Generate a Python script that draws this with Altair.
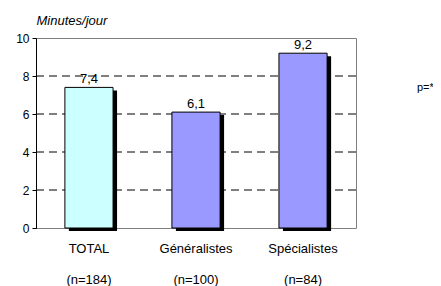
import altair as alt
import pandas as pd

categories = ["TOTAL", "Généralistes", "Spécialistes"]
sizes = ["(n=184)", "(n=100)", "(n=84)"]
values = [7.4, 6.1, 9.2]
colors = ["#CCFFFF", "#9999FF", "#9999FF"]
grid_values = [2, 4, 6, 8]

df = pd.DataFrame({
    "cat": [c + "|" + n for c, n in zip(categories, sizes)],
    "v": values,
    "col": colors,
})

FONT = "Liberation Sans"

x = alt.X("cat:N", sort=None, title=None,
          scale=alt.Scale(paddingInner=0.55, paddingOuter=0.27),
          axis=alt.Axis(labelExpr="split(datum.label, '|')", labelLineHeight=31,
                        labelFont=FONT, labelFontSize=13, labelColor="black",
                        labelPadding=14, labelAngle=0, ticks=False, domain=False))
y = alt.Y("v:Q", title="Minutes/jour",
          scale=alt.Scale(domain=[0, 10]),
          axis=alt.Axis(values=[0, 2, 4, 6, 8, 10], grid=False, tickSize=4,
                        labelOverlap=False,
                        tickColor="black", domainColor="black", labelFont=FONT,
                        labelFontSize=12, labelColor="black", labelPadding=3,
                        titleAngle=0, titleAlign="left", titleBaseline="alphabetic",
                        titleX=0, titleY=-14, titleFont=FONT, titleFontSize=13,
                        titleFontStyle="italic", titleFontWeight="normal",
                        titleColor="black"))

base = alt.Chart(df)

grid = alt.Chart(pd.DataFrame({"v": grid_values})).mark_rule(
    color="black", strokeDash=[8, 5], strokeWidth=1
).encode(y=y)

shadow = base.mark_bar(color="black", xOffset=4, x2Offset=4, yOffset=3, y2Offset=1).encode(
    x=x, y=y)

bars = base.mark_bar(stroke="black", strokeWidth=1).encode(
    x=x, y=y, color=alt.Color("col:N", scale=None))

labels = base.transform_calculate(
    lab="replace(format(datum.v, '.1f'), '.', ',')"
).mark_text(baseline="bottom", dy=-1, font=FONT, fontSize=13, color="black").encode(
    x=x, y=y, text="lab:N")

note = alt.Chart(pd.DataFrame({"t": ["p=*"]})).mark_text(
    font=FONT, fontSize=11, color="black", align="left", baseline="middle"
).encode(x=alt.value(381), y=alt.value(50), text="t:N")

chart = alt.layer(grid, shadow, bars, labels, note).properties(
    width=320, height=190,
    autosize=alt.AutoSizeParams(type="none"),
    padding={"left": 28, "top": 30, "right": 77, "bottom": 58},
    background="white",
).configure_view(stroke="#808080", strokeWidth=1)

chart.save("out.html", embed_options={"renderer": "svg", "actions": False})
